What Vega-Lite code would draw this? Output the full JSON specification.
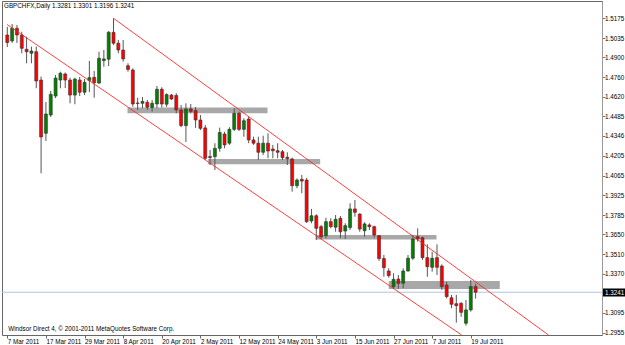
{
  "$schema": "https://vega.github.io/schema/vega-lite/v6.json",
  "width": 600,
  "height": 334,
  "autosize": "none",
  "padding": {"left": 2, "top": 1, "right": 23, "bottom": 10},
  "background": "white",
  "config": {"view": {"stroke": "#666", "strokeWidth": 1}, "axis": {"labelOverlap": false, "labelFont": "Liberation Sans", "labelFontSize": 6.3, "labelFlush": false}},
  "title": {"text": "GBPCHFX,Daily  1.3281 1.3301 1.3196 1.3241", "anchor": "start", "frame": "group", "offset": -8, "dx": 2, "fontSize": 6.3, "fontWeight": "normal", "font": "Liberation Sans", "color": "#000"},
  "datasets": {
    "candles": [
      {"i":0,"date":"2011-03-07","o":1.5057,"h":1.5114,"l":1.4972,"c":1.5004},
      {"i":1,"date":"2011-03-08","o":1.5015,"h":1.5135,"l":1.5001,"c":1.5104},
      {"i":2,"date":"2011-03-09","o":1.5104,"h":1.5128,"l":1.5001,"c":1.5057},
      {"i":3,"date":"2011-03-10","o":1.5057,"h":1.5080,"l":1.4928,"c":1.4963},
      {"i":4,"date":"2011-03-11","o":1.4956,"h":1.5045,"l":1.4857,"c":1.4939},
      {"i":5,"date":"2011-03-14","o":1.4928,"h":1.4975,"l":1.4857,"c":1.4944},
      {"i":6,"date":"2011-03-15","o":1.4939,"h":1.4975,"l":1.4681,"c":1.4732},
      {"i":7,"date":"2011-03-16","o":1.4739,"h":1.4763,"l":1.4081,"c":1.4337},
      {"i":8,"date":"2011-03-17","o":1.4363,"h":1.4584,"l":1.4309,"c":1.4499},
      {"i":9,"date":"2011-03-18","o":1.4492,"h":1.4662,"l":1.4478,"c":1.4638},
      {"i":10,"date":"2011-03-21","o":1.4626,"h":1.4775,"l":1.4612,"c":1.4753},
      {"i":11,"date":"2011-03-22","o":1.4739,"h":1.4798,"l":1.4681,"c":1.4787},
      {"i":12,"date":"2011-03-23","o":1.4782,"h":1.4792,"l":1.4683,"c":1.4739},
      {"i":13,"date":"2011-03-24","o":1.4739,"h":1.4756,"l":1.4575,"c":1.4633},
      {"i":14,"date":"2011-03-25","o":1.4633,"h":1.4756,"l":1.4568,"c":1.4746},
      {"i":15,"date":"2011-03-28","o":1.4739,"h":1.4761,"l":1.4627,"c":1.4653},
      {"i":16,"date":"2011-03-29","o":1.4653,"h":1.4746,"l":1.4633,"c":1.4723},
      {"i":17,"date":"2011-03-30","o":1.4736,"h":1.4874,"l":1.4653,"c":1.4756},
      {"i":18,"date":"2011-03-31","o":1.4758,"h":1.4803,"l":1.4614,"c":1.4720},
      {"i":19,"date":"2011-04-01","o":1.4718,"h":1.4939,"l":1.4711,"c":1.4893},
      {"i":20,"date":"2011-04-04","o":1.4876,"h":1.4951,"l":1.4833,"c":1.4888},
      {"i":21,"date":"2011-04-05","o":1.4886,"h":1.5085,"l":1.4838,"c":1.5076},
      {"i":22,"date":"2011-04-06","o":1.5076,"h":1.5175,"l":1.4987,"c":1.4999},
      {"i":23,"date":"2011-04-07","o":1.4999,"h":1.5022,"l":1.4928,"c":1.4951},
      {"i":24,"date":"2011-04-08","o":1.4951,"h":1.5022,"l":1.4869,"c":1.4888},
      {"i":25,"date":"2011-04-11","o":1.4840,"h":1.4857,"l":1.4798,"c":1.4814},
      {"i":26,"date":"2011-04-12","o":1.4810,"h":1.4822,"l":1.4551,"c":1.4570},
      {"i":27,"date":"2011-04-13","o":1.4577,"h":1.4614,"l":1.4528,"c":1.4574},
      {"i":28,"date":"2011-04-14","o":1.4575,"h":1.4619,"l":1.4540,"c":1.4588},
      {"i":29,"date":"2011-04-15","o":1.4582,"h":1.4598,"l":1.4528,"c":1.4547},
      {"i":30,"date":"2011-04-18","o":1.4545,"h":1.4598,"l":1.4516,"c":1.4575},
      {"i":31,"date":"2011-04-19","o":1.4570,"h":1.4697,"l":1.4540,"c":1.4674},
      {"i":32,"date":"2011-04-20","o":1.4674,"h":1.4688,"l":1.4545,"c":1.4570},
      {"i":33,"date":"2011-04-21","o":1.4568,"h":1.4646,"l":1.4549,"c":1.4636},
      {"i":34,"date":"2011-04-22","o":1.4633,"h":1.4641,"l":1.4598,"c":1.4605},
      {"i":35,"date":"2011-04-25","o":1.4630,"h":1.4646,"l":1.4504,"c":1.4528},
      {"i":36,"date":"2011-04-26","o":1.4528,"h":1.4563,"l":1.4406,"c":1.4417},
      {"i":37,"date":"2011-04-27","o":1.4417,"h":1.4575,"l":1.4302,"c":1.4535},
      {"i":38,"date":"2011-04-28","o":1.4535,"h":1.4570,"l":1.4504,"c":1.4518},
      {"i":39,"date":"2011-04-29","o":1.4524,"h":1.4549,"l":1.4401,"c":1.4457},
      {"i":40,"date":"2011-05-02","o":1.4457,"h":1.4492,"l":1.4386,"c":1.4398},
      {"i":41,"date":"2011-05-03","o":1.4401,"h":1.4422,"l":1.4175,"c":1.4187},
      {"i":42,"date":"2011-05-04","o":1.4199,"h":1.4245,"l":1.4139,"c":1.4192},
      {"i":43,"date":"2011-05-05","o":1.4198,"h":1.4293,"l":1.4104,"c":1.4257},
      {"i":44,"date":"2011-05-06","o":1.4257,"h":1.4403,"l":1.4233,"c":1.4369},
      {"i":45,"date":"2011-05-09","o":1.4358,"h":1.4374,"l":1.4257,"c":1.4281},
      {"i":46,"date":"2011-05-10","o":1.4293,"h":1.4406,"l":1.4281,"c":1.4391},
      {"i":47,"date":"2011-05-11","o":1.4391,"h":1.4540,"l":1.4379,"c":1.4504},
      {"i":48,"date":"2011-05-12","o":1.4504,"h":1.4516,"l":1.4379,"c":1.4391},
      {"i":49,"date":"2011-05-13","o":1.4391,"h":1.4469,"l":1.4339,"c":1.4452},
      {"i":50,"date":"2011-05-16","o":1.4464,"h":1.4480,"l":1.4293,"c":1.4316},
      {"i":51,"date":"2011-05-17","o":1.4316,"h":1.4339,"l":1.4281,"c":1.4293},
      {"i":52,"date":"2011-05-18","o":1.4293,"h":1.4339,"l":1.4175,"c":1.4229},
      {"i":53,"date":"2011-05-19","o":1.4229,"h":1.4346,"l":1.4210,"c":1.4293},
      {"i":54,"date":"2011-05-20","o":1.4293,"h":1.4363,"l":1.4187,"c":1.4238},
      {"i":55,"date":"2011-05-23","o":1.4252,"h":1.4281,"l":1.4187,"c":1.4240},
      {"i":56,"date":"2011-05-24","o":1.4240,"h":1.4293,"l":1.4187,"c":1.4229},
      {"i":57,"date":"2011-05-25","o":1.4233,"h":1.4245,"l":1.4175,"c":1.4191},
      {"i":58,"date":"2011-05-26","o":1.4194,"h":1.4229,"l":1.4139,"c":1.4184},
      {"i":59,"date":"2011-05-27","o":1.4182,"h":1.4191,"l":1.3951,"c":1.3993},
      {"i":60,"date":"2011-05-30","o":1.3993,"h":1.4045,"l":1.3975,"c":1.4033},
      {"i":61,"date":"2011-05-31","o":1.4038,"h":1.4069,"l":1.3940,"c":1.4026},
      {"i":62,"date":"2011-06-01","o":1.4033,"h":1.4048,"l":1.3730,"c":1.3739},
      {"i":63,"date":"2011-06-02","o":1.3744,"h":1.3829,"l":1.3728,"c":1.3781},
      {"i":64,"date":"2011-06-03","o":1.3781,"h":1.3791,"l":1.3610,"c":1.3692},
      {"i":65,"date":"2011-06-06","o":1.3704,"h":1.3716,"l":1.3617,"c":1.3633},
      {"i":66,"date":"2011-06-07","o":1.3640,"h":1.3767,"l":1.3622,"c":1.3739},
      {"i":67,"date":"2011-06-08","o":1.3739,"h":1.3763,"l":1.3692,"c":1.3704},
      {"i":68,"date":"2011-06-09","o":1.3700,"h":1.3786,"l":1.3668,"c":1.3756},
      {"i":69,"date":"2011-06-10","o":1.3763,"h":1.3779,"l":1.3622,"c":1.3668},
      {"i":70,"date":"2011-06-13","o":1.3673,"h":1.3728,"l":1.3617,"c":1.3711},
      {"i":71,"date":"2011-06-14","o":1.3697,"h":1.3869,"l":1.3680,"c":1.3829},
      {"i":72,"date":"2011-06-15","o":1.3829,"h":1.3892,"l":1.3774,"c":1.3805},
      {"i":73,"date":"2011-06-16","o":1.3793,"h":1.3798,"l":1.3668,"c":1.3687},
      {"i":74,"date":"2011-06-17","o":1.3675,"h":1.3735,"l":1.3633,"c":1.3723},
      {"i":75,"date":"2011-06-20","o":1.3716,"h":1.3728,"l":1.3680,"c":1.3704},
      {"i":76,"date":"2011-06-21","o":1.3704,"h":1.3711,"l":1.3626,"c":1.3645},
      {"i":77,"date":"2011-06-22","o":1.3640,"h":1.3645,"l":1.3462,"c":1.3479},
      {"i":78,"date":"2011-06-23","o":1.3479,"h":1.3504,"l":1.3351,"c":1.3414},
      {"i":79,"date":"2011-06-24","o":1.3391,"h":1.3410,"l":1.3344,"c":1.3358},
      {"i":80,"date":"2011-06-27","o":1.3280,"h":1.3375,"l":1.3264,"c":1.3332},
      {"i":81,"date":"2011-06-28","o":1.3334,"h":1.3363,"l":1.3264,"c":1.3304},
      {"i":82,"date":"2011-06-29","o":1.3304,"h":1.3410,"l":1.3269,"c":1.3391},
      {"i":83,"date":"2011-06-30","o":1.3391,"h":1.3504,"l":1.3386,"c":1.3481},
      {"i":84,"date":"2011-07-01","o":1.3481,"h":1.3645,"l":1.3469,"c":1.3617},
      {"i":85,"date":"2011-07-04","o":1.3633,"h":1.3692,"l":1.3598,"c":1.3617},
      {"i":86,"date":"2011-07-05","o":1.3626,"h":1.3633,"l":1.3469,"c":1.3485},
      {"i":87,"date":"2011-07-06","o":1.3485,"h":1.3579,"l":1.3351,"c":1.3421},
      {"i":88,"date":"2011-07-07","o":1.3417,"h":1.3527,"l":1.3386,"c":1.3481},
      {"i":89,"date":"2011-07-08","o":1.3485,"h":1.3579,"l":1.3363,"c":1.3417},
      {"i":90,"date":"2011-07-11","o":1.3426,"h":1.3438,"l":1.3257,"c":1.3280},
      {"i":91,"date":"2011-07-12","o":1.3292,"h":1.3315,"l":1.3198,"c":1.3210},
      {"i":92,"date":"2011-07-13","o":1.3202,"h":1.3222,"l":1.3128,"c":1.3156},
      {"i":93,"date":"2011-07-14","o":1.3160,"h":1.3222,"l":1.3026,"c":1.3146},
      {"i":94,"date":"2011-07-15","o":1.3163,"h":1.3170,"l":1.3068,"c":1.3099},
      {"i":95,"date":"2011-07-18","o":1.3022,"h":1.3186,"l":1.3005,"c":1.3116},
      {"i":96,"date":"2011-07-19","o":1.3116,"h":1.3327,"l":1.3104,"c":1.3281},
      {"i":97,"date":"2011-07-20","o":1.3281,"h":1.3301,"l":1.3196,"c":1.3241}
    ],
    "zones": [
      {"i1":24.9,"i2":53.9,"p1":1.4545,"p2":1.4504},
      {"i1":41.6,"i2":64.8,"p1":1.4182,"p2":1.4144},
      {"i1":63.9,"i2":88.9,"p1":1.3645,"p2":1.3613},
      {"i1":79,"i2":102,"p1":1.3320,"p2":1.3264}
    ],
    "trend": [
      {"i1":-0.06,"p1":1.5131,"i2":94.1,"p2":1.2939},
      {"i1":22,"p1":1.5175,"i2":112.1,"p2":1.2939}
    ],
    "last": [{"p":1.3241}],
    "notes": [{"text":"Windsor Direct 4, © 2001-2011 MetaQuotes Software Corp.","i":0.2,"p":1.2964}]
  },
  "layer": [
    {
      "data": {"name": "zones"},
      "mark": {"type": "rect", "color": "#A8A8A8"},
      "encoding": {
        "x": {"field": "i1", "type": "quantitative",
          "scale": {"domain": [-0.061, 122.14], "nice": false, "zero": false},
          "axis": {"values": [0,8,16,24,32,40,48,56,64,72,80,88,96], "tickCount": 40,
            "labelExpr": "['7 Mar 2011','17 Mar 2011','29 Mar 2011','8 Apr 2011','20 Apr 2011','2 May 2011','12 May 2011','24 May 2011','3 Jun 2011','15 Jun 2011','27 Jun 2011','7 Jul 2011','19 Jul 2011'][round(datum.value/8)]",
            "labelAlign": "left", "labelPadding": 0, "tickSize": 3, "tickColor": "#666", "domain": false, "grid": false, "title": null,
            "labelFont": "Liberation Sans", "labelFontSize": 6.3, "labelColor": "#000", "labelFlush": false, "labelOverlap": false, "labelBaseline": "top"}},
        "x2": {"field": "i2"},
        "y": {"field": "p1", "type": "quantitative",
          "scale": {"domain": [1.2939, 1.5297], "nice": false, "zero": false},
          "axis": {"orient": "right", "tickCount": 40,
            "values": [1.5175,1.5035,1.49,1.476,1.462,1.4485,1.4346,1.4205,1.4065,1.3925,1.3785,1.365,1.351,1.337,1.3241,1.3095,1.2955],
            "format": ".4f", "grid": false, "title": null, "domain": true, "domainColor": "#999",
            "tickSize": {"condition": {"test": "datum.value === 1.3241", "value": 23}, "value": 3},
            "tickWidth": {"condition": {"test": "datum.value === 1.3241", "value": 8}, "value": 1},
            "tickColor": {"condition": {"test": "datum.value === 1.3241", "value": "#000"}, "value": "#777"},
            "labelColor": {"condition": {"test": "datum.value === 1.3241", "value": "#fff"}, "value": "#000"},
            "labelPadding": {"condition": {"test": "datum.value === 1.3241", "value": -20.5}, "value": -0.5},
            "labelFont": "Liberation Sans", "labelFontSize": 6.3, "labelFlush": false, "labelOverlap": false}},
        "y2": {"field": "p2"}
      }
    },
    {
      "data": {"name": "last"},
      "mark": {"type": "rule", "color": "#B0C4DE", "strokeWidth": 1},
      "encoding": {"y": {"field": "p", "type": "quantitative"}}
    },
    {
      "data": {"name": "candles"},
      "mark": {"type": "rule", "color": "#555", "strokeWidth": 1},
      "encoding": {
        "x": {"field": "i", "type": "quantitative"},
        "y": {"field": "l", "type": "quantitative"},
        "y2": {"field": "h"}
      }
    },
    {
      "data": {"name": "candles"},
      "mark": {"type": "bar", "size": 3, "stroke": "#333", "strokeWidth": 0.6},
      "encoding": {
        "x": {"field": "i", "type": "quantitative"},
        "y": {"field": "o", "type": "quantitative"},
        "y2": {"field": "c"},
        "color": {"condition": {"test": "datum.c >= datum.o", "value": "#008000"}, "value": "#FF0000"}
      }
    },
    {
      "data": {"name": "trend"},
      "mark": {"type": "rule", "color": "#FF2020", "strokeWidth": 1, "opacity": 0.85},
      "encoding": {
        "x": {"field": "i1", "type": "quantitative"},
        "x2": {"field": "i2"},
        "y": {"field": "p1", "type": "quantitative"},
        "y2": {"field": "p2"}
      }
    },
    {
      "data": {"name": "notes"},
      "mark": {"type": "text", "align": "left", "baseline": "alphabetic", "font": "Liberation Sans", "fontSize": 6.3, "color": "#000"},
      "encoding": {
        "x": {"field": "i", "type": "quantitative"},
        "y": {"field": "p", "type": "quantitative"},
        "text": {"field": "text"}
      }
    }
  ]
}
